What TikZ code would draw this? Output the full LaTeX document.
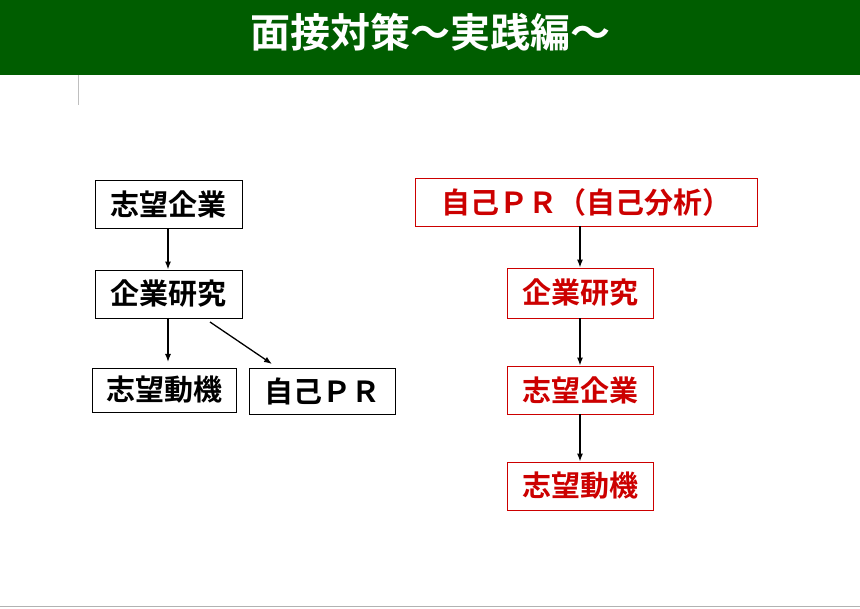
\documentclass[tikz,border=0pt]{standalone}
\usepackage{fontspec}
\newfontfamily\cjk{Noto Sans CJK JP Bold}
\begin{document}
\begin{tikzpicture}[x=1pt,y=-1pt,
  bx/.style={draw=black,line width=0.8pt,inner sep=0pt,font=\cjk\fontsize{29}{30}\selectfont,text=black},
  rbx/.style={draw=red!80!black,line width=0.8pt,inner sep=0pt,font=\cjk\fontsize{29}{30}\selectfont,text=red!80!black},
  arr/.style={-{Latex[length=8pt,width=6pt]},line width=1.3pt}]
\usetikzlibrary{arrows.meta}
\useasboundingbox (0,0) rectangle (860,609);
\fill[white] (0,0) rectangle (860,609);
\fill[green!25!black!85!green] (0,0) rectangle (860,75);
\node (title) at (430,32) {\cjk\fontsize{40}{42}\selectfont\color{white}面接対策～実践編～};
\draw[gray!60] (0,606) -- (860,606);
\draw[gray!50] (78,75) -- (78,105);
\node[bx,minimum width=147pt,minimum height=48pt] (l1) at (168.5,204) {志望企業};
\node[bx,minimum width=147pt,minimum height=48pt] (l2) at (168.5,294) {企業研究};
\node[bx,minimum width=144pt,minimum height=44pt] (l3) at (164,390) {志望動機};
\node[bx,minimum width=146pt,minimum height=46pt] (l4) at (322,391) {自己ＰＲ};
\draw[arr] (l1.south -| 168,0) -- (l2.north -| 168,0);
\draw[arr] (168,318) coordinate (a) -- (168,362) coordinate (b);
\draw[arr] (210,322) coordinate (c) -- (272,364) coordinate (d);
\node[rbx,minimum width=342pt,minimum height=48pt] (r1) at (586,202) {自己ＰＲ（自己分析）};
\node[rbx,minimum width=146pt,minimum height=50pt] (r2) at (580,293) {企業研究};
\node[rbx,minimum width=146pt,minimum height=48pt] (r3) at (580,390) {志望企業};
\node[rbx,minimum width=146pt,minimum height=48pt] (r4) at (580,486) {志望動機};
\draw[arr] (r1.south -| r2.north) -- (r2.north);
\draw[arr] (r2) -- (r3);
\draw[arr] (r3) -- (r4);
\end{tikzpicture}
\end{document}
